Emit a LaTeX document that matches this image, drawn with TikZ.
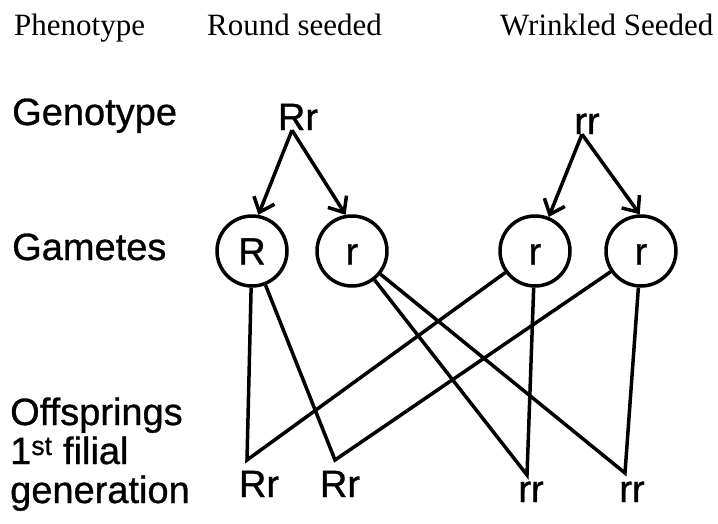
\documentclass[tikz,border=0pt]{standalone}
\usepackage{fontspec}
\setmainfont{Liberation Serif}
\setsansfont{Liberation Sans}
\newfontfamily\labfont[FakeBold=0.8]{Liberation Sans}
\usetikzlibrary{arrows.meta}
\begin{document}
\begin{tikzpicture}[x=1pt,y=-1pt,
  lab/.style={font=\fontsize{38}{40}\selectfont\labfont, inner sep=0pt, anchor=base west},
  phen/.style={font=\fontsize{31}{33}\selectfont, inner sep=0pt, anchor=base west},
  geno/.style={font=\fontsize{38}{40}\selectfont\labfont, inner sep=0pt, anchor=base},
  gam/.style={draw, circle, line width=3.5pt, minimum size=70pt, inner sep=0pt,
    text height=27pt, text depth=0pt, font=\fontsize{38}{40}\selectfont\labfont},
  link/.style={line width=3.5pt, line join=miter},
  arr/.style={line width=3.5pt, -{Straight Barb[length=13pt,width=22pt]}}
]
\useasboundingbox (0,0) rectangle (718,523);
% phenotype row
\node[phen] (phen) at (14,35) {Phenotype};
\node[phen] (round) at (207,35) {Round seeded};
\node[phen] (wrink) at (500,35) {Wrinkled Seeded};
% left labels
\node[lab] (genol) at (12,125) {Genotype};
\node[lab] (gaml) at (12,260) {Gametes};
\node[lab] (off1) at (10,425) {Offsprings};
\node[lab] (off2) at (10,464) {1\textsuperscript{st} filial};
\node[lab] (off3) at (10,503) {generation};
% genotypes
\node[geno] (Rr) at (298,130) {Rr};
\node[geno] (rrp) at (587,134) {rr};
% gametes
\node[gam] (gR) at (252,251) {R};
\node[gam] (g1) at (352,251) {r};
\node[gam] (g2) at (535,251) {r};
\node[gam] (g3) at (641,251) {r};
% offspring
\node[geno] (o1) at (259,497) {Rr};
\node[geno] (o2) at (340,497) {Rr};
\node[geno] (o3) at (531,502) {rr};
\node[geno] (o4) at (632,502) {rr};
\coordinate (v1) at (247,460);
\coordinate (v2) at (335,460);
\coordinate (v3) at (527,475);
\coordinate (v4) at (625,473);
% arrows
\draw[arr] ([xshift=-6pt]Rr.south) -- (gR.80);
\draw[arr] ([xshift=-6pt]Rr.south) -- (g1.100);
\draw[arr] ([xshift=-5pt]rrp.south) -- (g2.68);
\draw[arr] ([xshift=-5pt]rrp.south) -- (g3.92);
% crosses
\draw[link] (gR) -- (v1) -- (g2);
\draw[link] (gR) -- (v2) -- (g3);
\draw[link] (g1) -- (v3) -- (g2);
\draw[link] (g1) -- (v4) -- (g3);
\end{tikzpicture}
\end{document}
